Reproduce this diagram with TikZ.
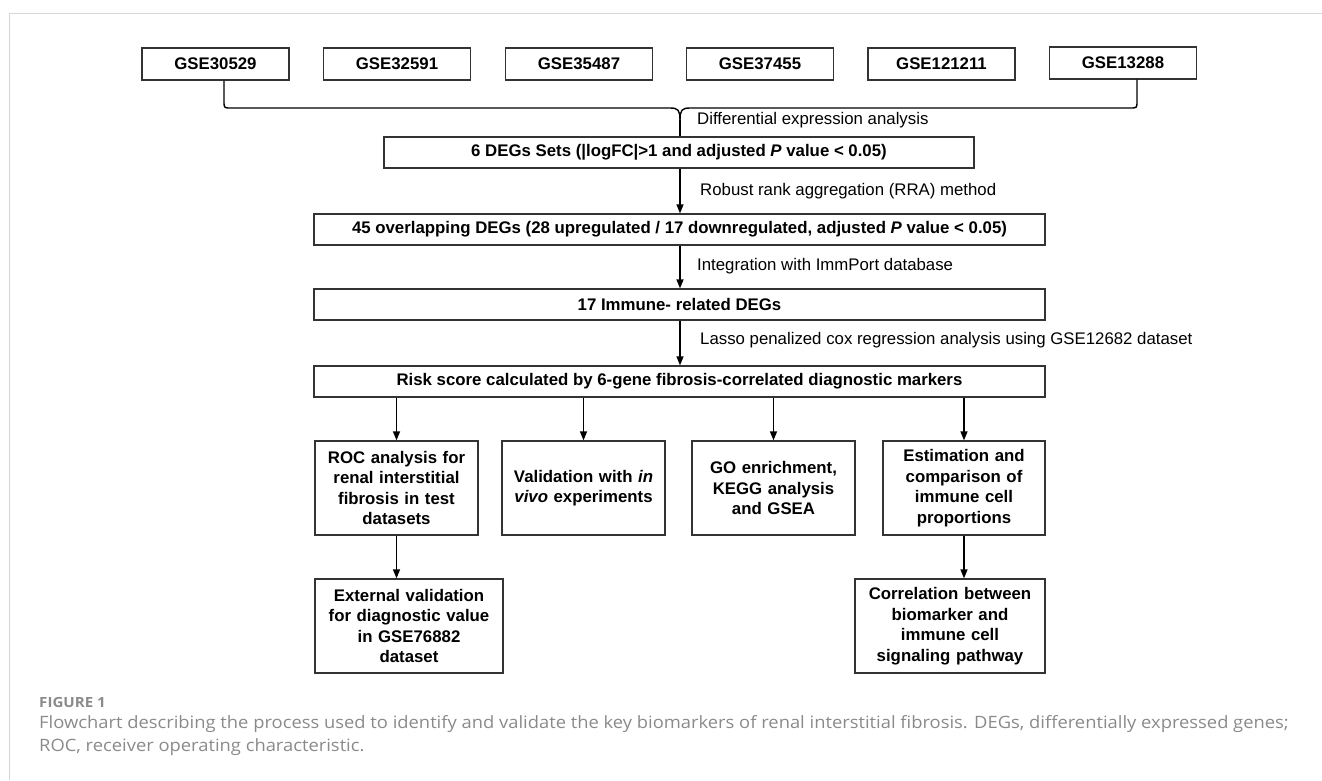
\documentclass[tikz,border=0pt]{standalone}
\usepackage{fontspec}
\setmainfont{Liberation Sans}
\newfontfamily\capfont[FakeStretch=1.08]{Open Sans}
\usetikzlibrary{arrows.meta}
\definecolor{framegray}{HTML}{D6D6D6}
\definecolor{capgray}{HTML}{8A8A8A}
\definecolor{boxline}{HTML}{333333}
\tikzset{
  box/.style={draw=boxline, line width=1.3pt, fill=white, inner sep=2pt, align=center,
    font=\bfseries\fontsize{16.8}{20.6}\selectfont},
  gse/.style={box, minimum width=147pt, minimum height=32pt},
  wide/.style={box, minimum width=731pt, minimum height=31pt},
  tall/.style={box, minimum height=94pt},
  lbl/.style={anchor=west, inner sep=0pt, font=\fontsize{16.8}{20}\selectfont},
  arr/.style={-{Triangle[length=9pt,width=7pt]}, line width=1.4pt, draw=black},
  brace/.style={line width=1.4pt, draw=black}
}
\begin{document}
\begin{tikzpicture}[x=1pt,y=-1pt]
\useasboundingbox (0,0) rectangle (1322,780);
% frame
\draw[framegray, line width=1.5pt] (9.3,780) -- (9.3,13.5) -- (1322,13.5);

% row 1
\node[gse] (g1) at (215.5,64) {GSE30529};
\node[gse] (g2) at (397,64) {GSE32591};
\node[gse] (g3) at (579,64) {GSE35487};
\node[gse] (g4) at (760,64) {GSE37455};
\node[gse] (g5) at (941.5,64) {GSE121211};
\node[gse] (g6) at (1123,63) {GSE13288};

\node[box, minimum width=590pt, minimum height=31pt] (degs) at (679,152.5)
  {6 DEGs Sets (|logFC|>1 and adjusted \textit{P} value < 0.05)};

% brace
\coordinate (bl) at (g1.south -| 224,0);
\coordinate (br) at (g6.south -| 1137,0);
\coordinate (tip) at (680,120);
\draw[brace] (bl) -- (224,101) .. controls (224,108) .. (231,108) -- (670,108)
  .. controls (678,108) and (680,110) .. (tip);
\draw[brace] (br) -- (1137,101) .. controls (1137,108) .. (1130,108) -- (690,108)
  .. controls (682,108) and (680,110) .. (tip);
\draw[brace] (tip) -- (tip |- degs.north);
\node[lbl] (l1) at (697,120) {Differential expression analysis};

\node[wide] (s45) at (679.5,229.5)
  {45 overlapping DEGs (28 upregulated / 17 downregulated, adjusted \textit{P} value < 0.05)};
\node[wide] (imm) at (679.5,304.5) {17 Immune- related DEGs};
\node[wide] (risk) at (679.5,381.5) {Risk score calculated by 6-gene fibrosis-correlated diagnostic markers};

\draw[arr] (degs.south -| tip) -- (s45.north -| tip);
\node[lbl] (l2) at (700,191) {Robust rank aggregation (RRA) method};
\draw[arr] (s45.south -| tip) -- (imm.north -| tip);
\node[lbl] (l3) at (697,266) {Integration with ImmPort database};
\draw[arr] (imm.south -| tip) -- (risk.north -| tip);
\node[lbl] (l4) at (700,340) {Lasso penalized cox regression analysis using GSE12682 dataset};

% row 3
\node[tall, minimum width=163pt, text width=155pt] (roc) at (396.5,488)
  {ROC analysis for\\ renal interstitial\\ fibrosis in test\\ datasets};
\node[tall, minimum width=163pt, text width=155pt] (val) at (583.5,488)
  {Validation with \textit{in}\\ \textit{vivo} experiments};
\node[tall, minimum width=163pt, text width=155pt] (go) at (773.5,488)
  {GO enrichment,\\ KEGG analysis\\ and GSEA};
\node[tall, minimum width=162pt, text width=154pt] (est) at (964,488)
  {Estimation and\\ comparison of\\ immune cell\\ proportions};

\foreach \n in {roc,val,go,est}
  \draw[arr] (risk.south -| \n.north) -- (\n.north);

% row 4
\node[tall, minimum width=188pt, text width=180pt] (ext) at (409,626)
  {External validation\\ for diagnostic value\\ in GSE76882\\ dataset};
\node[tall, minimum width=190pt, text width=182pt] (cor) at (950,626)
  {Correlation between\\ biomarker and\\ immune cell\\ signaling pathway};

\draw[arr] (roc.south) -- (roc.south |- ext.north);
\draw[arr] (est.south) -- (est.south |- cor.north);

% caption
\node[anchor=west, inner sep=0pt, text=capgray, font=\capfont\bfseries\fontsize{14}{16}\selectfont]
  (fig) at (39,702) {FIGURE 1};
\node[anchor=north west, inner sep=0pt, align=left, text=capgray,
  font=\capfont\fontsize{17}{23}\selectfont] (cap) at (39,715)
  {Flowchart describing the process used to identify and validate the key biomarkers of renal interstitial fibrosis. DEGs, differentially expressed genes;\\
   ROC, receiver operating characteristic.};
\end{tikzpicture}
\end{document}
